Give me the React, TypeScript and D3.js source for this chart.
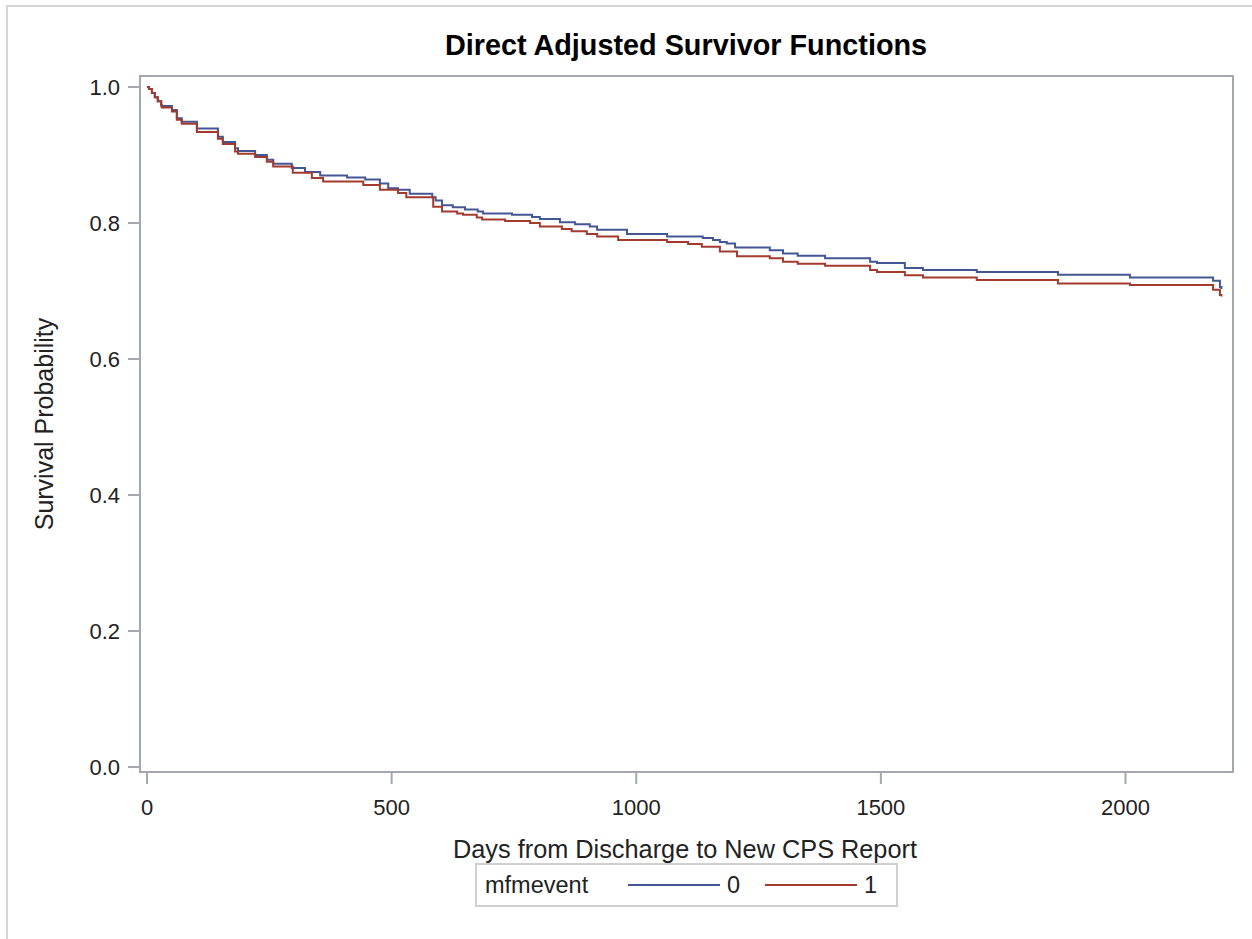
import React from "react";
import * as d3 from "d3";

const title = "Direct Adjusted Survivor Functions";
const xLabel = "Days from Discharge to New CPS Report";
const yLabel = "Survival Probability";
const legendTitle = "mfmevent";
const groups = ["0", "1"];
const xTicks = [0, 500, 1000, 1500, 2000];
const yTicks = [0, 0.2, 0.4, 0.6, 0.8, 1.0];

const daysG0 = [0, 4, 10, 16, 22, 29, 30, 51, 61, 71, 102, 145, 155, 180, 186, 221, 245, 258, 296, 323, 354, 409, 446, 476, 493, 513, 537, 583, 590, 603, 625, 650, 676, 687, 746, 787, 803, 844, 875, 905, 920, 981, 1063, 1136, 1157, 1171, 1185, 1202, 1273, 1300, 1330, 1386, 1478, 1492, 1549, 1586, 1696, 1862, 2009, 2179, 2193, 2196];
const survG0 = [1.0, 0.997, 0.991, 0.985, 0.979, 0.974, 0.972, 0.966, 0.954, 0.949, 0.939, 0.927, 0.919, 0.910, 0.906, 0.900, 0.893, 0.887, 0.881, 0.875, 0.870, 0.867, 0.864, 0.858, 0.851, 0.849, 0.843, 0.838, 0.833, 0.826, 0.823, 0.820, 0.817, 0.814, 0.812, 0.809, 0.806, 0.801, 0.798, 0.795, 0.790, 0.784, 0.780, 0.778, 0.775, 0.772, 0.770, 0.764, 0.760, 0.755, 0.752, 0.748, 0.743, 0.741, 0.734, 0.731, 0.728, 0.724, 0.720, 0.715, 0.706, 0.703];

const daysG1 = [0, 4, 10, 16, 22, 29, 30, 51, 61, 71, 102, 145, 155, 180, 186, 221, 245, 258, 298, 337, 360, 442, 476, 513, 530, 585, 603, 634, 646, 674, 685, 732, 783, 803, 848, 868, 899, 920, 963, 1063, 1106, 1134, 1171, 1206, 1273, 1300, 1330, 1386, 1478, 1492, 1549, 1586, 1696, 1862, 2009, 2179, 2193, 2196];
const survG1 = [1.0, 0.997, 0.991, 0.985, 0.979, 0.973, 0.970, 0.964, 0.952, 0.946, 0.934, 0.924, 0.916, 0.905, 0.902, 0.897, 0.890, 0.883, 0.874, 0.866, 0.861, 0.856, 0.849, 0.844, 0.838, 0.824, 0.817, 0.814, 0.812, 0.808, 0.805, 0.803, 0.800, 0.795, 0.791, 0.788, 0.784, 0.780, 0.775, 0.772, 0.769, 0.765, 0.758, 0.751, 0.748, 0.743, 0.740, 0.737, 0.731, 0.728, 0.723, 0.720, 0.716, 0.711, 0.709, 0.702, 0.694, 0.692];

const colors = ["#445694", "#A23A2E"];
const FONT = "'Liberation Sans', Arial, sans-serif";

export default function App() {
  const W = 1252, H = 939;
  const frame = { left: 140, top: 76, right: 1233, bottom: 772 };
  const x = d3.scaleLinear().domain([0, 2000]).range([147, 1125.5]);
  const y = d3.scaleLinear().domain([0, 1]).range([767, 87]);
  const line = d3
    .line<[number, number]>()
    .x((d) => x(d[0]))
    .y((d) => y(d[1]))
    .curve(d3.curveStepAfter);
  const series = [
    daysG0.map((d, i) => [d, survG0[i]] as [number, number]),
    daysG1.map((d, i) => [d, survG1[i]] as [number, number]),
  ];
  const axisColor = "#a3a8ae";
  const textColor = "#222";

  return (
    <svg
      width={W}
      height={H}
      style={{ position: "absolute", left: 0, top: 0, background: "#fff" }}
      fontFamily={FONT}
    >
      <rect x={7} y={6} width={1260} height={950} fill="#fff" stroke="#d6d6d6" strokeWidth={2} />
      <text x={686} y={55} textAnchor="middle" fontSize={28.8} fontWeight="bold" fill="#000">
        {title}
      </text>
      {/* plot frame */}
      <rect
        x={frame.left}
        y={frame.top}
        width={frame.right - frame.left}
        height={frame.bottom - frame.top}
        fill="#fff"
        stroke={axisColor}
        strokeWidth={2}
      />
      {/* y axis */}
      {yTicks.map((t) => (
        <g key={"y" + t}>
          <line x1={frame.left - 12} x2={frame.left} y1={y(t)} y2={y(t)} stroke={axisColor} strokeWidth={2} />
          <text x={frame.left - 20} y={y(t) + 8} textAnchor="end" fontSize={22} fill={textColor}>
            {d3.format(".1f")(t)}
          </text>
        </g>
      ))}
      {/* x axis */}
      {xTicks.map((t) => (
        <g key={"x" + t}>
          <line x1={x(t)} x2={x(t)} y1={frame.bottom} y2={frame.bottom + 12} stroke={axisColor} strokeWidth={2} />
          <text x={x(t)} y={815} textAnchor="middle" fontSize={22} fill={textColor}>
            {String(t)}
          </text>
        </g>
      ))}
      <text x={685} y={858} textAnchor="middle" fontSize={25.3} fill={textColor}>
        {xLabel}
      </text>
      <text
        transform={`translate(53, ${424}) rotate(-90)`}
        textAnchor="middle"
        fontSize={25}
        fill={textColor}
      >
        {yLabel}
      </text>
      {/* curves */}
      <g>
        {series.map((s, i) => (
          <path key={i} d={line(s) || ""} fill="none" stroke={colors[i]} strokeWidth={2} />
        ))}
      </g>
      {/* legend */}
      <g>
        <rect x={476} y={864} width={421} height={42} fill="#fff" stroke="#d0d0d0" strokeWidth={2} />
        <text x={485} y={893} fontSize={23.5} fill={textColor}>
          {legendTitle}
        </text>
        {groups.map((g, i) => (
          <g key={g}>
            <line x1={628 + i * 137} x2={720 + i * 137} y1={885} y2={885} stroke={colors[i]} strokeWidth={2} />
            <text x={727 + i * 137} y={893} fontSize={23.5} fill={textColor}>
              {g}
            </text>
          </g>
        ))}
      </g>
    </svg>
  );
}
